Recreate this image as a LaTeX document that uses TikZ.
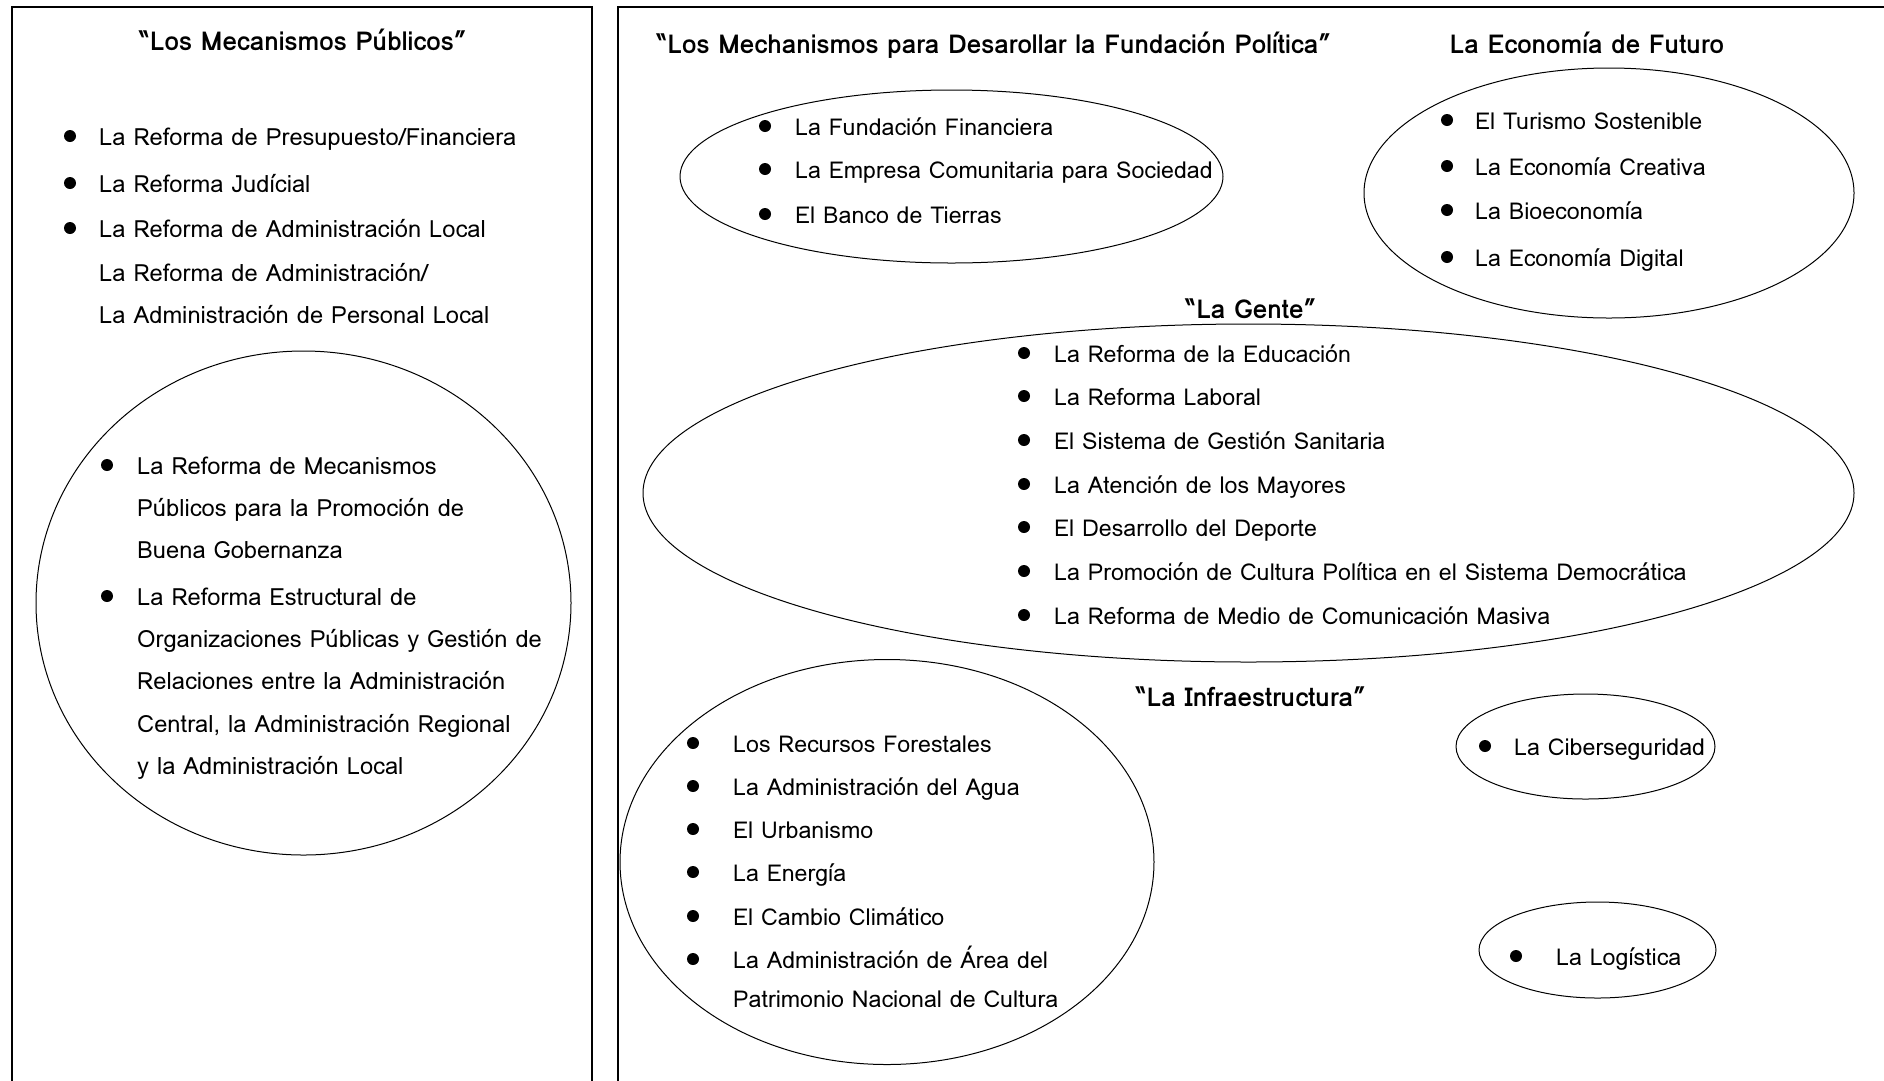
\documentclass[tikz,border=0pt]{standalone}
\usepackage{fontspec}
\setmainfont{Loma}
\usetikzlibrary{shapes.geometric}
\newcommand\itemfont{\fontsize{23.2}{28}\selectfont}
\newcommand\leftfont{\fontsize{23.7}{28}\selectfont}
\newcommand\titlefont{\fontsize{26}{30}\selectfont\bfseries}
\tikzset{
  frame/.style={draw, line width=2pt},
  grp/.style={draw, ellipse, line width=1pt, inner sep=0pt},
  itm/.style={anchor=base west, font=\itemfont, inner sep=0pt},
  litm/.style={itm, font=\leftfont},
  dot/.style={circle, fill=black, inner sep=0pt, minimum size=12pt},
  ttl/.style={anchor=base, font=\titlefont, inner sep=0pt},
}
\newcommand\bitem[6][itm]{\node[dot] (#2d) at (#3,#5) {}; \node[#1] (#2) at (#4,#5+9) {#6};}
\newcommand\citem[5][itm]{\node[#1] (#2) at (#3,#4+9) {#5};}
\begin{document}
\begin{tikzpicture}[x=1pt,y=-1pt]
\useasboundingbox (0,0) rectangle (1884,1080);
\clip (0,0) rectangle (1884,1080);
\fill[white] (0,0) rectangle (1884,1080);
% frames
\draw[frame] (12,1100) -- (12,7) -- (592,7) -- (592,1100);
\draw[frame] (618,1100) -- (618,7) -- (1900,7);

% left panel
\node[ttl] (tL) at (303,41+9) {“Los Mecanismos Públicos”};
\bitem[litm]{l1}{70}{99}{136}{La Reforma de Presupuesto/Financiera}
\bitem[litm]{l2}{70}{99}{183}{La Reforma Judícial}
\bitem[litm]{l3}{70}{99}{228}{La Reforma de Administración Local}
\citem[litm]{l4}{99}{272}{La Reforma de Administración/}
\citem[litm]{l5}{99}{314}{La Administración de Personal Local}
\node[grp, minimum width=535pt, minimum height=504pt] (eL) at (303.5,603) {};
\bitem[litm]{m1}{107}{137}{465}{La Reforma de Mecanismos}
\citem[litm]{m1b}{137}{507}{Públicos para la Promoción de}
\citem[litm]{m1c}{137}{549}{Buena Gobernanza}
\bitem[litm]{m2}{107}{137}{596}{La Reforma Estructural de}
\citem[litm]{m2b}{137}{638}{Organizaciones Públicas y Gestión de}
\citem[litm]{m2c}{137}{680}{Relaciones entre la Administración}
\citem[litm]{m2d}{137}{723}{Central, la Administración Regional}
\citem[litm]{m2e}{137}{765}{y la Administración Local}

% right panel titles
\node[ttl] (tF) at (994,44+9) {“Los Mechanismos para Desarollar la Fundación Política”};
\node[ttl] (tE) at (1587,44+9) {La Economía de Futuro};

% Fundación
\node[grp, minimum width=543pt, minimum height=173pt] (eF) at (951.5,176.5) {};
\bitem{f1}{765}{795}{126}{La Fundación Financiera}
\bitem{f2}{765}{795}{169}{La Empresa Comunitaria para Sociedad}
\bitem{f3}{765}{795}{214}{El Banco de Tierras}

% Economía
\node[grp, minimum width=490pt, minimum height=250pt] (eE) at (1609,193) {};
\bitem{e1}{1447}{1475}{120}{El Turismo Sostenible}
\bitem{e2}{1447}{1475}{166}{La Economía Creativa}
\bitem{e3}{1447}{1475}{210}{La Bioeconomía}
\bitem{e4}{1447}{1475}{257}{La Economía Digital}

% Gente
\node[ttl] (tG) at (1251,309+9) {“La Gente”};
\node[grp, minimum width=1211pt, minimum height=338pt] (eG) at (1248.5,493) {};
\bitem{g1}{1024}{1054}{353}{La Reforma de la Educación}
\bitem{g2}{1024}{1054}{396}{La Reforma Laboral}
\bitem{g3}{1024}{1054}{440}{El Sistema de Gestión Sanitaria}
\bitem{g4}{1024}{1054}{484}{La Atención de los Mayores}
\bitem{g5}{1024}{1054}{527}{El Desarrollo del Deporte}
\bitem{g6}{1024}{1054}{571}{La Promoción de Cultura Política en el Sistema Democrática}
\bitem{g7}{1024}{1054}{615}{La Reforma de Medio de Comunicación Masiva}

% Infraestructura
\node[ttl] (tI) at (1251,697+9) {“La Infraestructura”};
\node[grp, minimum width=534pt, minimum height=405pt] (eI) at (887,862) {};
\bitem{i1}{693}{733}{743}{Los Recursos Forestales}
\bitem{i2}{693}{733}{786}{La Administración del Agua}
\bitem{i3}{693}{733}{829}{El Urbanismo}
\bitem{i4}{693}{733}{872}{La Energía}
\bitem{i5}{693}{733}{916}{El Cambio Climático}
\bitem{i6}{693}{733}{959}{La Administración de Área del}
\citem{i6b}{733}{998}{Patrimonio Nacional de Cultura}

\node[grp, minimum width=259pt, minimum height=105pt] (eC) at (1585.5,746.5) {};
\bitem{c1}{1485}{1514}{746}{La Ciberseguridad}
\node[grp, minimum width=237pt, minimum height=96pt] (eLg) at (1597.5,950) {};
\bitem{lg1}{1516}{1556}{956}{La Logística}
\end{tikzpicture}
\end{document}
